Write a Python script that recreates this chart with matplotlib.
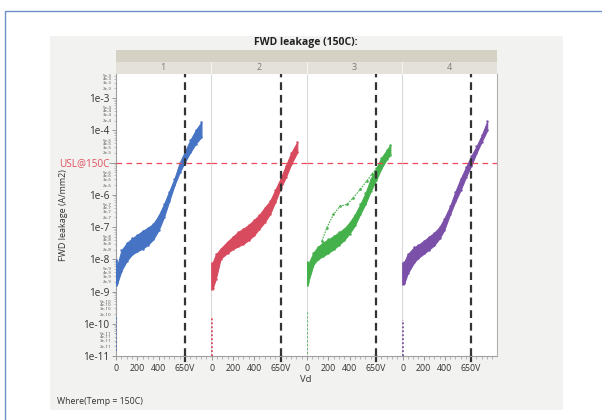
import numpy as np
import matplotlib.pyplot as plt
from matplotlib.patches import Rectangle
from matplotlib.lines import Line2D
import matplotlib.transforms as mtransforms

plt.rcParams['font.family'] = ['Open Sans', 'DejaVu Sans']

W, H = 602, 420

panels = ["1", "2", "3", "4"]
colors = ["#4673c3", "#d84a5e", "#45b14b", "#7a50a8"]

# leakage band edges, log10(A/mm2) vs Vd (V)
blue_vd = [10, 50, 100, 150, 200, 250, 300, 350, 400, 450, 500, 550, 600, 650, 700, 750, 805]
blue_lo = [-8.75, -8.35, -8.05, -7.85, -7.75, -7.67, -7.55, -7.38, -7.1, -6.7, -6.2, -5.7, -5.3, -4.97, -4.68, -4.42, -4.2]
blue_hi = [-8.2, -7.72, -7.5, -7.35, -7.24, -7.12, -7.02, -6.9, -6.65, -6.3, -5.9, -5.5, -5.0, -4.65, -4.3, -4.0, -3.74]

red_vd = [10, 40, 85, 150, 200, 250, 300, 350, 400, 450, 500, 550, 600, 650, 700, 750, 808]
red_lo = [-8.9, -8.6, -7.98, -7.8, -7.68, -7.6, -7.52, -7.4, -7.25, -7.05, -6.85, -6.6, -6.22, -5.8, -5.45, -5.05, -4.68]
red_hi = [-8.1, -7.85, -7.67, -7.45, -7.3, -7.15, -7.05, -6.93, -6.78, -6.62, -6.4, -6.2, -5.85, -5.5, -5.1, -4.7, -4.36]

green_vd = [10, 60, 100, 150, 200, 250, 300, 350, 400, 450, 500, 550, 600, 650, 700, 750, 785]
green_lo = [-8.7, -8.16, -8.0, -7.9, -7.8, -7.69, -7.55, -7.4, -7.2, -6.95, -6.6, -6.28, -5.88, -5.55, -5.18, -4.9, -4.75]
green_hi = [-8.15, -7.79, -7.62, -7.48, -7.38, -7.28, -7.16, -7.05, -6.86, -6.62, -6.3, -5.95, -5.5, -5.18, -4.85, -4.62, -4.45]
green_odd_vd = [140, 186, 248, 311, 374, 437, 500, 563, 610, 640]
green_odd = [-7.43, -7.02, -6.61, -6.35, -6.3, -6.09, -5.83, -5.57, -5.36, -5.25]

purple_vd = [15, 47, 110, 150, 204, 250, 298, 350, 393, 450, 500, 550, 600, 650, 700, 750, 802]
purple_lo = [-8.75, -8.44, -8.09, -7.95, -7.82, -7.7, -7.57, -7.35, -7.1, -6.6, -6.2, -5.85, -5.45, -5.1, -4.7, -4.35, -4.0]
purple_hi = [-8.09, -7.85, -7.62, -7.55, -7.42, -7.3, -7.18, -7.0, -6.75, -6.35, -5.9, -5.5, -5.15, -4.8, -4.5, -4.15, -3.72]

# points measured at Vd = 0 (log10 range): main cluster and low stragglers
zero_main = [(-8.83, -8.0), (-8.96, -8.09), (-8.83, -8.05), (-8.81, -8.09)]
zero_low = [(-10.85, -9.8), (-11.0, -9.83), (-10.95, -9.65), (-11.0, -9.89)]

bands = [(blue_vd, blue_lo, blue_hi), (red_vd, red_lo, red_hi),
         (green_vd, green_lo, green_hi), (purple_vd, purple_lo, purple_hi)]

usl = 1e-5
vd_limit = 650
x_major = [0, 200, 400, 650]
x_major_labels = ["0", "200", "400", "650V"]
y_major_exp = [-11, -10, -9, -8, -7, -6, -5, -4, -3]


def box(x0, y0, x1, y1):
    return [x0 / W, 1 - y1 / H, (x1 - x0) / W, (y1 - y0) / H]


fig = plt.figure(figsize=(6.02, 4.2), dpi=100)
fig.patch.set_facecolor("white")

# blue outer frame and grey report background
fig.add_artist(Rectangle((5 / W, -0.1), 1.2, 1 - 11 / H + 0.1, transform=fig.transFigure,
                         fill=False, edgecolor="#6d8fcb", lw=1.0, zorder=-3))
fig.add_artist(Rectangle((50 / W, 1 - 410 / H), 513 / W, 374 / H, transform=fig.transFigure,
                         facecolor="#f2f2f1", edgecolor="none", zorder=-2))

edges = [115.5, 211, 306.5, 402, 497]
top, bottom = 74, 356

# header strips
fig.add_artist(Rectangle((edges[0] / W, 1 - 62 / H), (edges[-1] - edges[0]) / W, 12.5 / H,
                         transform=fig.transFigure, facecolor="#d5d1c5", edgecolor="none", zorder=-1))
fig.add_artist(Rectangle((edges[0] / W, 1 - top / H), (edges[-1] - edges[0]) / W, 12 / H,
                         transform=fig.transFigure, facecolor="#e3e1d9", edgecolor="none", zorder=-1))
fig.text((edges[0] + edges[-1]) / 2 / W, 1 - 43 / H, "FWD leakage (150C):", ha="center",
         va="center", fontsize=7.5, fontweight="bold", color="#222222")

axes = []
for i in range(4):
    ax = fig.add_axes(box(edges[i], top, edges[i + 1], bottom))
    ax.set_facecolor("white")
    axes.append(ax)
    if i > 0:
        fig.add_artist(Line2D([edges[i] / W] * 2, [1 - 74 / H, 1 - 62 / H], transform=fig.transFigure,
                              color="#f4f3ef", lw=0.8))
    fig.text((edges[i] + edges[i + 1]) / 2 / W, 1 - 68 / H, panels[i], ha="center", va="center",
             fontsize=6.5, color="#7a7a7a")

    vd, lo, hi = bands[i]
    c = colors[i]
    ax.set_yscale("log")
    ax.fill_between(vd, 10 ** np.array(lo), 10 ** np.array(hi), facecolor=c, edgecolor=c, lw=0.8, zorder=3)
    ax.plot(vd, 10 ** np.array(lo), ".", ms=1.5, color=c, zorder=3)
    ax.plot(vd, 10 ** np.array(hi), ".", ms=1.5, color=c, zorder=3)
    ax.vlines(0, 10 ** zero_main[i][0], 10 ** zero_main[i][1], color=c, lw=2.0, zorder=3)
    ax.vlines(0, 10 ** zero_low[i][0], 10 ** zero_low[i][1], color=c, lw=1.3,
              linestyles=(0, (1, 1.2)), zorder=3)
    if i == 2:
        ax.plot(green_odd_vd, 10 ** np.array(green_odd), ls=(0, (1.5, 1)), marker=".", ms=1.8,
                lw=0.8, color=c, zorder=3)

    ax.axhline(usl, color="#ea4a58", lw=0.9, ls=(0, (4.5, 3.5)), zorder=6)
    ax.axvline(vd_limit, color="#333333", lw=1.6, ls=(0, (3.5, 2.2)), zorder=5)
    tr = mtransforms.blended_transform_factory(ax.transData, ax.transAxes)
    ax.plot([vd_limit, vd_limit], [0, -0.018], color="#333333", lw=1.6, transform=tr, clip_on=False)

    ax.set_xlim(-6, 895)
    ax.set_ylim(1e-11, 5.6e-3)
    ax.set_xticks(x_major, x_major_labels)
    ax.set_xticks([v for v in range(50, 900, 50) if v not in x_major], minor=True)
    ax.tick_params(axis="x", which="major", length=3, width=0.6, color="#888888",
                   labelsize=6.3, labelcolor="#333333", pad=2.5)
    ax.tick_params(axis="x", which="minor", length=2, width=0.5, color="#999999")

    for s in ["top", "right", "left", "bottom"]:
        ax.spines[s].set_visible(False)
    ax.spines["bottom"].set_visible(True)
    ax.spines["bottom"].set_color("#a0a0a0")
    ax.spines["bottom"].set_linewidth(0.8)
    ax.spines["left"].set_visible(True)
    ax.spines["left"].set_color("#a0a0a0" if i == 0 else "#d9d9d9")
    ax.spines["left"].set_linewidth(0.8)
    if i == 3:
        ax.spines["right"].set_visible(True)
        ax.spines["right"].set_color("#b0b0b0")
        ax.spines["right"].set_linewidth(0.8)

    if i == 0:
        maj = [10.0 ** e for e in y_major_exp]
        maj_labels = ["USL@150C" if e == -5 else "1e%d" % e for e in y_major_exp]
        ax.set_yticks(maj, maj_labels)
        mins, min_labels = [], []
        for e in range(-11, -2):
            for m in range(2, 10):
                v = m * 10.0 ** e
                if v > 5.6e-3:
                    continue
                mins.append(v)
                min_labels.append("%de%d" % (m, e) if m in (2, 3, 4, 5) else "")
        ax.set_yticks(mins, min_labels, minor=True)
        ax.tick_params(axis="y", which="major", length=3, width=0.6, color="#888888",
                       labelsize=7.2, labelcolor="#333333", pad=1.5)
        ax.tick_params(axis="y", which="minor", length=1.5, width=0.4, color="#999999",
                       labelsize=3.2, labelcolor="#555555", pad=1.5)
        for lab, e in zip(ax.get_yticklabels(), y_major_exp):
            if e == -5:
                lab.set_color("#e0505c")
        for tl, e in zip(ax.yaxis.get_majorticklines()[0::2], y_major_exp):
            if e == -5:
                tl.set_color("#e0505c")
                tl.set_markersize(5)
    else:
        ax.tick_params(axis="y", which="both", length=0, labelleft=False)

fig.text((edges[0] + edges[-1]) / 2 / W, 1 - 379 / H, "Vd", ha="center", va="center",
         fontsize=6.8, color="#333333")
fig.text(64 / W, 1 - 215 / H, "FWD leakage (A/mm2)", ha="center", va="center", rotation=90,
         fontsize=6.5, color="#333333")
fig.text(57 / W, 1 - 402 / H, "Where(Temp = 150C)", ha="left", va="center",
         fontsize=6.3, color="#333333")

fig.savefig("out.png", dpi=100)
